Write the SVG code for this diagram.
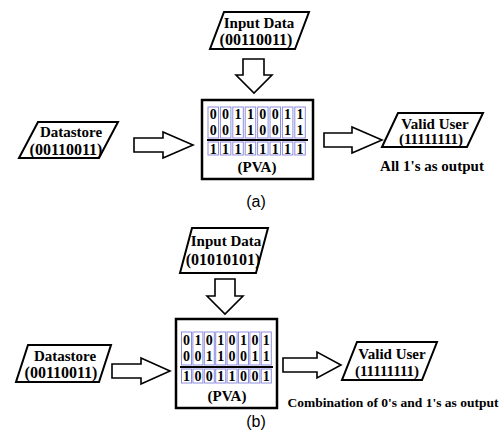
<svg xmlns="http://www.w3.org/2000/svg" width="502" height="432" viewBox="0 0 502 432">
  <style>
    .io { fill: #fff; stroke: #000; stroke-width: 2; stroke-linejoin: miter; }
    .box { fill: #fff; stroke: #000; stroke-width: 2.5; }
    .arrow { fill: #fff; stroke: #000; stroke-width: 1.6; stroke-linejoin: miter; }
    .cell { fill: none; stroke: #8e8ee0; stroke-width: 1; }
    .sep { stroke: #000; stroke-width: 2; }
    .t { font-family: "Liberation Serif", "Times New Roman", serif; font-weight: bold; text-anchor: middle; fill: #000; }
    .w { font-size: 15px; }
    .n { font-size: 16px; }
    .d { font-size: 14px; }
    .cap { font-family: "Liberation Sans", Arial, sans-serif; font-size: 16px; text-anchor: middle; fill: #000; }
  </style>

  <!-- ===== (a) valid user ===== -->
  <g id="a-input">
    <polygon class="io" points="224,12 309,12 295,49 210,49"/>
    <text class="t w" x="259" y="28">Input Data</text>
    <text class="t n" x="256" y="45">(00110011)</text>
  </g>
  <g id="a-datastore">
    <polygon class="io" points="38,122 118,122 99,158 19,158"/>
    <text class="t w" x="71" y="137">Datastore</text>
    <text class="t n" x="66" y="155">(00110011)</text>
  </g>
  <g id="a-pva">
    <rect class="box" x="202" y="100" width="111" height="79"/>
    <g class="cell">
      <rect x="208" y="107" width="10.5" height="31"/><rect x="220.4" y="107" width="10.5" height="31"/>
      <rect x="232.8" y="107" width="10.5" height="31"/><rect x="245.2" y="107" width="10.5" height="31"/>
      <rect x="257.6" y="107" width="10.5" height="31"/><rect x="270" y="107" width="10.5" height="31"/>
      <rect x="282.4" y="107" width="10.5" height="31"/><rect x="294.8" y="107" width="10.5" height="31"/>
      <rect x="208" y="142" width="10.5" height="13"/><rect x="220.4" y="142" width="10.5" height="13"/>
      <rect x="232.8" y="142" width="10.5" height="13"/><rect x="245.2" y="142" width="10.5" height="13"/>
      <rect x="257.6" y="142" width="10.5" height="13"/><rect x="270" y="142" width="10.5" height="13"/>
      <rect x="282.4" y="142" width="10.5" height="13"/><rect x="294.8" y="142" width="10.5" height="13"/>
    </g>
    <line class="sep" x1="207" y1="140" x2="308" y2="140"/>
    <text class="t d" y="118.5"><tspan x="213.2">0</tspan><tspan x="225.6">0</tspan><tspan x="238">1</tspan><tspan x="250.4">1</tspan><tspan x="262.8">0</tspan><tspan x="275.2">0</tspan><tspan x="287.6">1</tspan><tspan x="300">1</tspan></text>
    <text class="t d" y="134.5"><tspan x="213.2">0</tspan><tspan x="225.6">0</tspan><tspan x="238">1</tspan><tspan x="250.4">1</tspan><tspan x="262.8">0</tspan><tspan x="275.2">0</tspan><tspan x="287.6">1</tspan><tspan x="300">1</tspan></text>
    <text class="t d" y="153.5"><tspan x="213.2">1</tspan><tspan x="225.6">1</tspan><tspan x="238">1</tspan><tspan x="250.4">1</tspan><tspan x="262.8">1</tspan><tspan x="275.2">1</tspan><tspan x="287.6">1</tspan><tspan x="300">1</tspan></text>
    <text class="t w" x="257" y="172">(PVA)</text>
  </g>
  <g id="a-valid">
    <polygon class="io" points="398,113 483,113 467,147 382,147"/>
    <text class="t w" x="435" y="129">Valid User</text>
    <text class="t w" x="431" y="144">(11111111)</text>
    <text class="t w" x="432" y="171">All 1's as output</text>
  </g>

  <!-- ===== (b) invalid user ===== -->
  <g id="b-input">
    <polygon class="io" points="192,228 268,228 256,273 180,273"/>
    <text class="t w" x="226" y="246">Input Data</text>
    <text class="t n" x="223" y="265">(01010101)</text>
  </g>
  <g id="b-datastore">
    <polygon class="io" points="28,345 111,345 99,382 16,382"/>
    <text class="t w" x="65" y="361">Datastore</text>
    <text class="t n" x="61" y="378">(00110011)</text>
  </g>
  <g id="b-pva">
    <rect class="box" x="176" y="319" width="101" height="89"/>
    <g class="cell">
      <rect x="181.5" y="332" width="10" height="33"/><rect x="192.9" y="332" width="10" height="33"/>
      <rect x="204.3" y="332" width="10" height="33"/><rect x="215.7" y="332" width="10" height="33"/>
      <rect x="227.1" y="332" width="10" height="33"/><rect x="238.5" y="332" width="10" height="33"/>
      <rect x="249.9" y="332" width="10" height="33"/><rect x="261.3" y="332" width="10" height="33"/>
      <rect x="181.5" y="369" width="10" height="14"/><rect x="192.9" y="369" width="10" height="14"/>
      <rect x="204.3" y="369" width="10" height="14"/><rect x="215.7" y="369" width="10" height="14"/>
      <rect x="227.1" y="369" width="10" height="14"/><rect x="238.5" y="369" width="10" height="14"/>
      <rect x="249.9" y="369" width="10" height="14"/><rect x="261.3" y="369" width="10" height="14"/>
    </g>
    <line class="sep" x1="180" y1="367" x2="273" y2="367"/>
    <text class="t d" y="345"><tspan x="186.5">0</tspan><tspan x="197.9">1</tspan><tspan x="209.3">0</tspan><tspan x="220.7">1</tspan><tspan x="232.1">0</tspan><tspan x="243.5">1</tspan><tspan x="254.9">0</tspan><tspan x="266.3">1</tspan></text>
    <text class="t d" y="361"><tspan x="186.5">0</tspan><tspan x="197.9">0</tspan><tspan x="209.3">1</tspan><tspan x="220.7">1</tspan><tspan x="232.1">0</tspan><tspan x="243.5">0</tspan><tspan x="254.9">1</tspan><tspan x="266.3">1</tspan></text>
    <text class="t d" y="381"><tspan x="186.5">1</tspan><tspan x="197.9">0</tspan><tspan x="209.3">0</tspan><tspan x="220.7">1</tspan><tspan x="232.1">1</tspan><tspan x="243.5">0</tspan><tspan x="254.9">0</tspan><tspan x="266.3">1</tspan></text>
    <text class="t w" x="227" y="401">(PVA)</text>
  </g>
  <g id="b-valid">
    <polygon class="io" points="357,342 437,342 422,380 342,380"/>
    <text class="t w" x="392" y="359">Valid User</text>
    <text class="t w" x="387" y="376">(11111111)</text>
    <text class="t w" x="393" y="407" style="font-size:13.5px">Combination of 0's and 1's as output</text>
  </g>

  <!-- block arrows between the parts -->
  <g id="connectors">
    <polygon class="arrow" points="243,59 264,59 264,75 272,75 254,93 236,75 243,75"/>
    <polygon class="arrow" points="134,138 163,138 163,132 193,145 163,158 163,152 134,152"/>
    <polygon class="arrow" points="324,133 352,133 352,127 382,140 352,153 352,147 324,147"/>
    <polygon class="arrow" points="215,279 235,279 235,296 243,296 225,314 207,296 215,296"/>
    <polygon class="arrow" points="112,364 141,364 141,358 170,371 141,384 141,378 112,378"/>
    <polygon class="arrow" points="283,358 317,358 317,352 341,365 317,378 317,372 283,372"/>
  </g>

  <text class="cap" x="256" y="207">(a)</text>
  <text class="cap" x="256" y="427">(b)</text>
</svg>
